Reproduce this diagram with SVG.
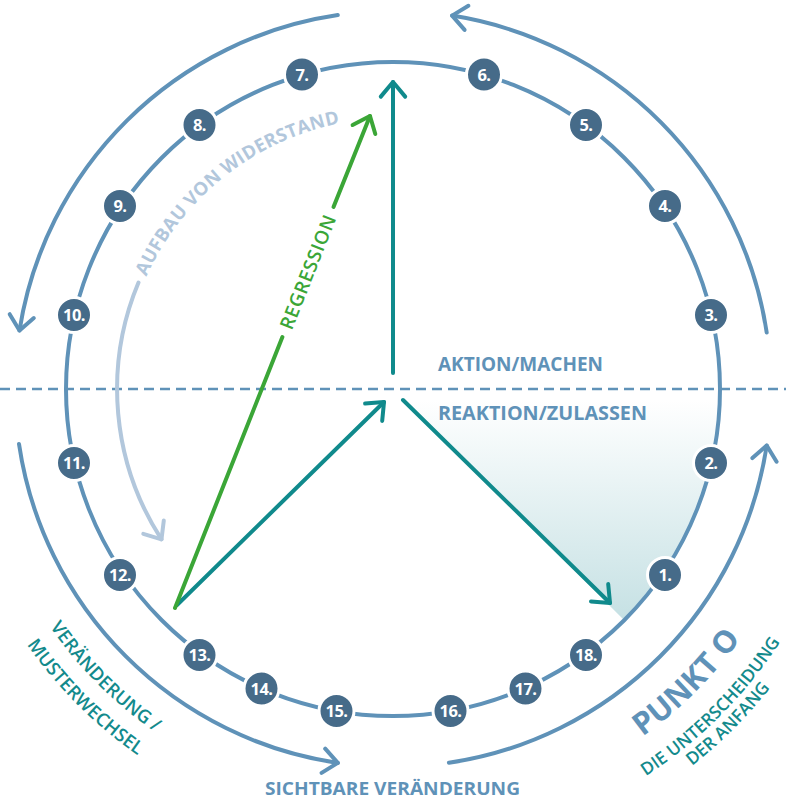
<svg xmlns="http://www.w3.org/2000/svg" width="786" height="802" viewBox="0 0 786 802">
<defs>
<linearGradient id="shade" gradientUnits="userSpaceOnUse" x1="0" y1="400" x2="0" y2="625">
<stop offset="0" stop-color="#c4e0e3" stop-opacity="0"/>
<stop offset="1" stop-color="#c4e0e3" stop-opacity="1"/>
</linearGradient>
<path id="pAufbau" d="M 126.1 436 A 271 271 0 0 1 499.7 139.9"/>
<path id="pVer1" d="M -22.9 425.4 A 417.5 417.5 0 0 0 356.6 804.9"/>
<path id="pVer2" d="M -51.8 427.9 A 446.5 446.5 0 0 0 354.1 833.8"/>
<path id="pPunkt" d="M 430.3 815.4 A 428 428 0 0 0 819.4 426.3"/>
<path id="pDie" d="M 433.3 849.7 A 462.5 462.5 0 0 0 853.7 429.3"/>
<path id="pDer" d="M 434.9 868.2 A 481.5 481.5 0 0 0 872.7 430.9"/>
</defs>
<style>
.ring{fill:none;stroke:#5f92b8;stroke-width:4}
.outer{fill:none;stroke:#5f92b8;stroke-width:4;stroke-linecap:round;stroke-linejoin:round}
.light{fill:none;stroke:#b2c7dc;stroke-width:4;stroke-linecap:round;stroke-linejoin:round}
.teal{fill:none;stroke:#108a8c;stroke-width:4;stroke-linecap:round;stroke-linejoin:round}
.green{fill:none;stroke:#3ba637;stroke-width:4;stroke-linecap:round;stroke-linejoin:round}
.dash{fill:none;stroke:#5f92b8;stroke-width:2.5;stroke-dasharray:10 6}
.node circle{fill:#466b89;stroke:#ffffff;stroke-width:3}
.node text{fill:#ffffff;font-family:"Open Sans","Noto Sans",sans-serif;font-weight:700;font-size:16.5px;text-anchor:middle;letter-spacing:-0.5px}
.lbl{fill:#5f92b8;font-family:"Open Sans","Noto Sans",sans-serif;font-weight:700}
.tealtxt{fill:#138a8c;font-family:"Open Sans","Noto Sans",sans-serif;font-weight:600}
</style>
<rect width="786" height="802" fill="#ffffff"/>
<path d="M 393 389 L 720 389 A 327 327 0 0 1 624.2 620.2 Z" fill="url(#shade)"/>
<line class="dash" x1="0" y1="389" x2="786" y2="389"/>
<circle class="ring" cx="393" cy="389" r="327"/>
<g id="connectors">
<path class="outer" d="M 337.8 15.1 A 378 378 0 0 0 19.5 330.5"/>
<path class="outer" d="M 33.8 318 L 19.5 330.5 L 9.7 314.2"/>
<path class="outer" d="M 766.7 332.5 A 378 378 0 0 0 452.1 15.6"/>
<path class="outer" d="M 464.6 29.9 L 452.1 15.6 L 468.4 5.8"/>
<path class="outer" d="M 19 444 A 378 378 0 0 0 337.8 762.9"/>
<path class="outer" d="M 325.2 748.7 L 337.8 762.9 L 321.6 772.9"/>
<path class="outer" d="M 448.9 762.8 A 378 378 0 0 0 766.7 445.5"/>
<path class="outer" d="M 752.4 458.1 L 766.7 445.5 L 776.6 461.7"/>
<path class="light" d="M 138.5 282.6 A 276 276 0 0 0 161.5 539.3"/>
<path class="light" d="M 163.8 520.4 L 161.5 539.3 L 143.3 533.8"/>
<path class="teal" d="M 393 373 L 393 82"/>
<path class="teal" d="M 380.8 96.6 L 393 82 L 405.2 96.6"/>
<path class="teal" d="M 177 605 L 384 402"/>
<path class="teal" d="M 365.1 403.5 L 384 402 L 382.2 420.9"/>
<path class="teal" d="M 403 400 L 610 603"/>
<path class="teal" d="M 608.2 584.1 L 610 603 L 591 601.5"/>
<path class="green" d="M 175 608 L 282.4 337"/>
<path class="green" d="M 333.5 207 L 370 116"/>
<path class="green" d="M 352.6 125 L 370 116 L 375.3 134"/>
</g>
<g id="nodes">
<g class="node" id="n1"><circle cx="665" cy="575" r="17.5"/><text x="665" y="581">1.</text></g>
<g class="node" id="n2"><circle cx="711" cy="463" r="17.5"/><text x="711" y="469">2.</text></g>
<g class="node" id="n3"><circle cx="711" cy="315" r="17.5"/><text x="711" y="321">3.</text></g>
<g class="node" id="n4"><circle cx="665" cy="206" r="17.5"/><text x="665" y="212">4.</text></g>
<g class="node" id="n5"><circle cx="586" cy="125" r="17.5"/><text x="586" y="131">5.</text></g>
<g class="node" id="n6"><circle cx="484" cy="74.5" r="17.5"/><text x="484" y="80.5">6.</text></g>
<g class="node" id="n7"><circle cx="302" cy="74.5" r="17.5"/><text x="302" y="80.5">7.</text></g>
<g class="node" id="n8"><circle cx="199.5" cy="125" r="17.5"/><text x="199.5" y="131">8.</text></g>
<g class="node" id="n9"><circle cx="120" cy="206" r="17.5"/><text x="120" y="212">9.</text></g>
<g class="node" id="n10"><circle cx="74" cy="315" r="17.5"/><text x="74" y="321">10.</text></g>
<g class="node" id="n11"><circle cx="74" cy="463" r="17.5"/><text x="74" y="469">11.</text></g>
<g class="node" id="n12"><circle cx="120" cy="575" r="17.5"/><text x="120" y="581">12.</text></g>
<g class="node" id="n13"><circle cx="199.5" cy="655" r="17.5"/><text x="199.5" y="661">13.</text></g>
<g class="node" id="n14"><circle cx="261.5" cy="688.5" r="17.5"/><text x="261.5" y="694.5">14.</text></g>
<g class="node" id="n15"><circle cx="336.5" cy="711" r="17.5"/><text x="336.5" y="717">15.</text></g>
<g class="node" id="n16"><circle cx="450.5" cy="711" r="17.5"/><text x="450.5" y="717">16.</text></g>
<g class="node" id="n17"><circle cx="525.5" cy="688.5" r="17.5"/><text x="525.5" y="694.5">17.</text></g>
<g class="node" id="n18"><circle cx="586" cy="655" r="17.5"/><text x="586" y="661">18.</text></g>
</g>
<g id="labels">
<text class="lbl" x="438" y="370.5" font-size="19.5" textLength="165" lengthAdjust="spacingAndGlyphs">AKTION/MACHEN</text>
<text class="lbl" x="438" y="419.5" font-size="19.5" textLength="209" lengthAdjust="spacingAndGlyphs">REAKTION/ZULASSEN</text>
<text class="lbl" x="265" y="795" font-size="18.5" textLength="255" lengthAdjust="spacingAndGlyphs">SICHTBARE VERÄNDERUNG</text>
<text font-family="Open Sans, Noto Sans, sans-serif" font-weight="700" font-size="18.5" fill="#b2c7dc" letter-spacing="0.3"><textPath href="#pAufbau" startOffset="50%" text-anchor="middle">AUFBAU VON WIDERSTAND</textPath></text>
<text font-family="Open Sans, Noto Sans, sans-serif" font-weight="600" font-size="19" fill="#3ba637" text-anchor="middle" letter-spacing="0.6" transform="translate(308 272) rotate(-68.4)" dy="0.35em">REGRESSION</text>
<text class="tealtxt" font-size="18.5"><textPath href="#pVer1" startOffset="50%" text-anchor="middle">VERÄNDERUNG /</textPath></text>
<text class="tealtxt" font-size="18.5"><textPath href="#pVer2" startOffset="50%" text-anchor="middle">MUSTERWECHSEL</textPath></text>
<text class="lbl" font-size="31"><textPath href="#pPunkt" startOffset="50%" text-anchor="middle">PUNKT O</textPath></text>
<text class="tealtxt" font-size="17.5"><textPath href="#pDie" startOffset="50%" text-anchor="middle">DIE UNTERSCHEIDUNG</textPath></text>
<text class="tealtxt" font-size="17.5"><textPath href="#pDer" startOffset="50%" text-anchor="middle">DER ANFANG</textPath></text>
</g>
</svg>
